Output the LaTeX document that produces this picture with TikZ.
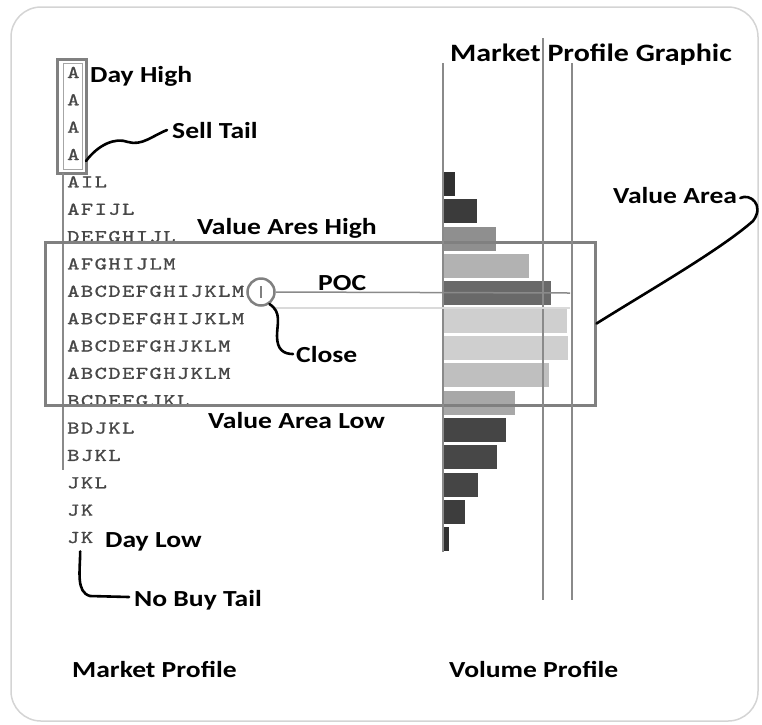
\documentclass[tikz,border=0pt]{standalone}
\usepackage{fontspec}
\newfontfamily\labelfont{Carlito}[FakeStretch=1.2]
\newfontfamily\rowfont{lmmono10-regular.otf}[FakeStretch=1.3, FakeBold=1.2, LetterSpace=8]
\usepackage{tikz}
\usetikzlibrary{positioning, calc}
\definecolor{rowGray}{HTML}{474747}
\definecolor{boxGray}{HTML}{808080}
\definecolor{guideGray}{HTML}{8A8A8A}
\definecolor{frameGray}{HTML}{D4D4D4}
\definecolor{pocLight}{HTML}{DADADA}

\begin{document}
\begin{tikzpicture}[x=1pt, y=-1pt,
    lbl/.style={font=\labelfont\bfseries\fontsize{23}{23}\selectfont, anchor=base west, inner sep=0pt},
    prow/.style={font=\rowfont\fontsize{18}{18}\selectfont, text=rowGray, anchor=base west, inner sep=0pt},
    tail/.style={line width=2.6pt, line cap=round, line join=round},
    guide/.style={draw=guideGray, line width=1.5pt}]
    \useasboundingbox (0,0) rectangle (762,724);
    % Frame
    \draw[frameGray, line width=1.5pt, rounded corners=30pt] (11,7) rectangle (758,721);

    % Volume bars
    \foreach \w/\g [count=\i from 4] in {12/81, 34/77, 53/44, 86/30, 108/59, 124/19, 125/19, 106/25, 72/34, 63/73, 54/72, 35/73, 22/76, 6/81} {
        \fill[black!\g] (443, 62.5+27.35*\i) rectangle ++(\w, 24);
    }

    % Letter rows
    \foreach \t [count=\i from 0] in {A,A,A,A,AIL,AFIJL,DEFGHIJL,AFGHIJLM,ABCDEFGHIJKLM,ABCDEFGHIJKLM,ABCDEFGHJKLM,ABCDEFGHJKLM,BCDEFGJKL,BDJKL,BJKL,JKL,JK,JK} {
        \node[prow] (r\i) at (67, 78+27.35*\i) {\t};
    }

    % Sell tail box
    \draw[boxGray, line width=3pt] (57,59) rectangle (86,173);
    \draw[boxGray!70, line width=1pt] (63,63) rectangle (82,169);
    \coordinate (selltip) at (86,161);
    \draw[guide] (63,173) -- (63,470);

    % Value area
    \node[draw=boxGray, line width=3pt, minimum width=550pt, minimum height=163pt, inner sep=0pt] (vabox) at (320,323.5) {};

    % Volume axis and guides
    \draw[guide] (443,63) -- (443,552);
    \draw[guide] (543,38) -- (543,600);
    \draw[guide] (572,63) -- (572,600);

    % POC
    \node[circle, draw=boxGray, line width=2.5pt, minimum size=27pt, inner sep=0pt] (pocmark) at (261,292) {};
    \draw[boxGray, line width=1.2pt] (261,286) -- (261,298);
    \coordinate (pocend) at (570,293);
    \draw[guide] (pocmark.east) -- (pocend);
    \draw[pocLight, line width=1.5pt] (273,308) -- (570,308);

    % Labels
    \node[lbl] (dayhigh) at (90,82) {Day High};
    \node[lbl] (selltail) at (172,138) {Sell Tail};
    \node[lbl] (vahigh) at (197,234) {Value Ares High};
    \node[lbl] (poc) at (318,290) {POC};
    \node[lbl] (close) at (296,362) {Close};
    \node[lbl] (valow) at (208,428) {Value Area Low};
    \node[lbl] (daylow) at (105,547) {Day Low};
    \node[lbl] (nobuy) at (134,606) {No Buy Tail};
    \node[lbl] (mprof) at (72,677) {Market Profile};
    \node[lbl] (vprof) at (449,677) {Volume Profile};
    \node[lbl, font=\labelfont\bfseries\fontsize{25}{25}\selectfont] (mpgraphic) at (450,61) {Market Profile Graphic};
    \node[lbl] (varea) at (613,203) {Value Area};

    % Tails
    \draw[tail] (selltip) .. controls (98,145) and (115,137) .. (128,142) .. controls (142,146) and (152,136) .. ([xshift=-5pt]selltail.west);
    \draw[tail] (pocmark.-55) .. controls (282,312) and (277,324) .. (277,336) .. controls (277,350) and (284,354) .. ([xshift=-3pt]close.west);
    \draw[tail] ([yshift=-8pt]r17.south) .. controls (80,572) and (76,592) .. (90,596) -- ([shift={(-5pt,9pt)}]nobuy.base west);
    \draw[tail] ([shift={(3pt,5pt)}]varea.base east) .. controls (750,193) and (765,205) .. (753,221) .. controls (720,250) and (650,290) .. (vabox.east);
\end{tikzpicture}
\end{document}
